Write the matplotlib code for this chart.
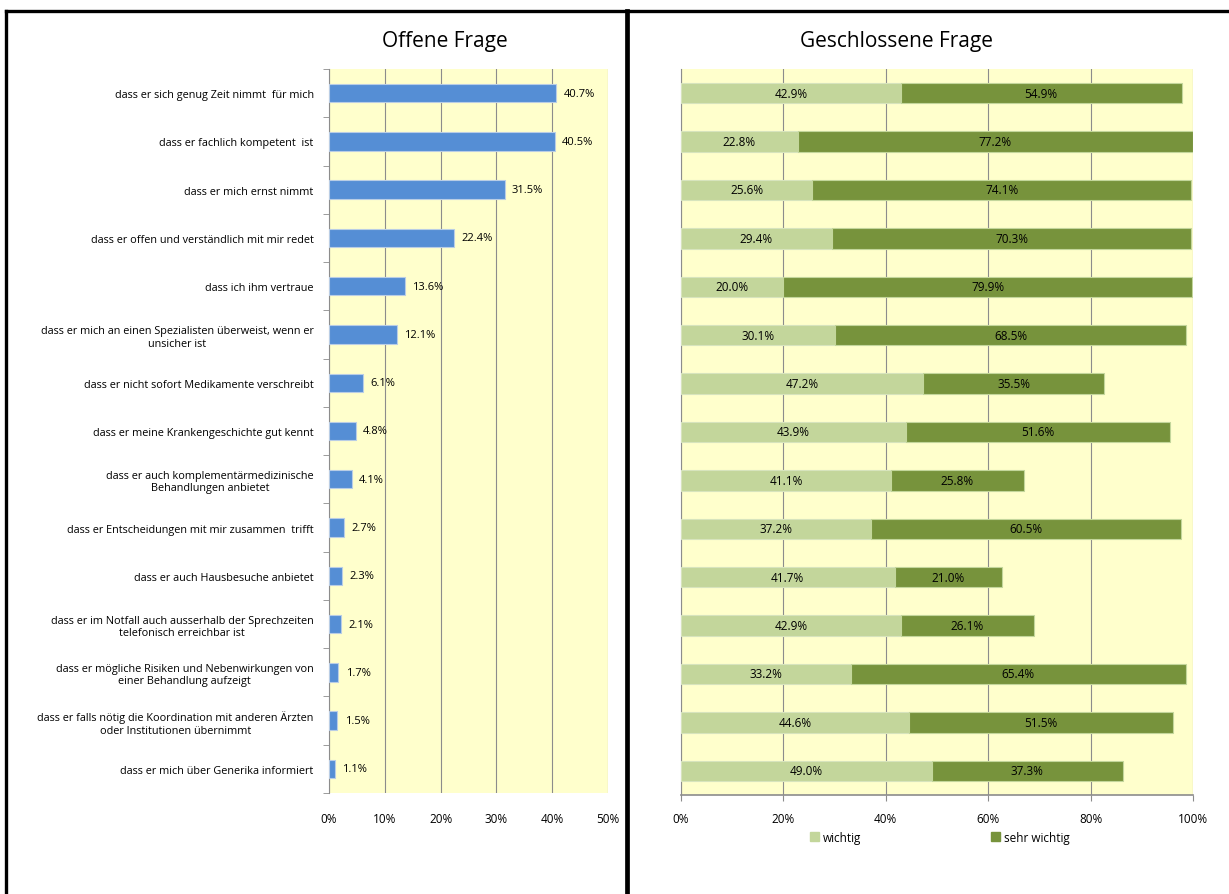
import matplotlib.pyplot as plt
from matplotlib.lines import Line2D
from matplotlib.patches import Patch
import numpy as np

# --- data ---
categories = [
    "dass er sich genug Zeit nimmt  für mich",
    "dass er fachlich kompetent  ist",
    "dass er mich ernst nimmt",
    "dass er offen und verständlich mit mir redet",
    "dass ich ihm vertraue",
    "dass er mich an einen Spezialisten überweist, wenn er\nunsicher ist",
    "dass er nicht sofort Medikamente verschreibt",
    "dass er meine Krankengeschichte gut kennt",
    "dass er auch komplementärmedizinische\nBehandlungen anbietet",
    "dass er Entscheidungen mit mir zusammen  trifft",
    "dass er auch Hausbesuche anbietet",
    "dass er im Notfall auch ausserhalb der Sprechzeiten\ntelefonisch erreichbar ist",
    "dass er mögliche Risiken und Nebenwirkungen von\neiner Behandlung aufzeigt",
    "dass er falls nötig die Koordination mit anderen Ärzten\noder Institutionen übernimmt",
    "dass er mich über Generika informiert",
]
offen = [40.7, 40.5, 31.5, 22.4, 13.6, 12.1, 6.1, 4.8, 4.1, 2.7, 2.3, 2.1, 1.7, 1.5, 1.1]
wichtig = [42.9, 22.8, 25.6, 29.4, 20.0, 30.1, 47.2, 43.9, 41.1, 37.2, 41.7, 42.9, 33.2, 44.6, 49.0]
sehr_wichtig = [54.9, 77.2, 74.1, 70.3, 79.9, 68.5, 35.5, 51.6, 25.8, 60.5, 21.0, 26.1, 65.4, 51.5, 37.3]
left_ticks = [0, 10, 20, 30, 40, 50]
right_ticks = [0, 20, 40, 60, 80, 100]

plt.rcParams['font.family'] = ['Open Sans', 'DejaVu Sans']

W, H = 1229, 895
fig = plt.figure(figsize=(W / 100, H / 100), dpi=100)

bg = '#FFFFCC'
grid_c = '#8C8C8C'
y = np.arange(len(categories))

# --- left panel: Offene Frage ---
ax1 = fig.add_axes([329 / W, 1 - 794 / H, 279 / W, 724 / H])
ax1.set_facecolor(bg)
ax1.barh(y, offen, height=0.38, color='#558ED5', edgecolor='#B9CDE5', linewidth=0.8, zorder=3)
for yi, v in zip(y, offen):
    ax1.text(v + 1.3, yi, f"{v:.1f}%", va='center', ha='left', fontsize=8, zorder=4)
ax1.set_xlim(0, 50)
ax1.set_ylim(len(categories) - 0.5, -0.5)
ax1.set_xticks(left_ticks)
ax1.set_xticklabels([f"{t}%" for t in left_ticks], fontsize=8.5)
ax1.tick_params(axis='x', length=0, pad=14)
ax1.set_yticks(y)
ax1.set_yticklabels(categories, fontsize=7.8, multialignment='center')
ax1.set_yticks(np.arange(len(categories) + 1) - 0.5, minor=True)
ax1.tick_params(axis='y', which='major', length=0, pad=11)
ax1.tick_params(axis='y', which='minor', length=4, color=grid_c)
ax1.grid(axis='x', color=grid_c, linewidth=0.8, zorder=0)
for s in ['top', 'right', 'bottom']:
    ax1.spines[s].set_visible(False)
ax1.spines['left'].set_color(grid_c)
ax1.set_axisbelow(True)
fig.text(445 / W, 1 - 42 / H, "Offene Frage", ha='center', va='center', fontsize=15)

# --- right panel: Geschlossene Frage ---
ax2 = fig.add_axes([681 / W, 1 - 796 / H, 512 / W, 726 / H])
ax2.set_facecolor(bg)
ax2.barh(y, wichtig, height=0.42, color='#C3D69B', edgecolor='#D7E4BD', linewidth=0.8, zorder=3, label='wichtig')
ax2.barh(y, sehr_wichtig, left=wichtig, height=0.42, color='#77933C', edgecolor='#C3D69B', linewidth=0.8, zorder=3, label='sehr wichtig')
for yi, a, b in zip(y, wichtig, sehr_wichtig):
    ax2.text(a / 2, yi, f"{a:.1f}%", va='center', ha='center', fontsize=8.5, zorder=4)
    ax2.text(a + b / 2, yi, f"{b:.1f}%", va='center', ha='center', fontsize=8.5, zorder=4)
ax2.set_xlim(0, 100)
ax2.set_ylim(len(categories) - 0.5, -0.5)
ax2.set_xticks(right_ticks)
ax2.set_xticklabels([f"{t}%" for t in right_ticks], fontsize=8.5)
ax2.tick_params(axis='x', length=4, color=grid_c, pad=8)
ax2.set_yticks([])
ax2.grid(axis='x', color=grid_c, linewidth=0.8, zorder=0)
for s in ['top', 'right']:
    ax2.spines[s].set_visible(False)
ax2.spines['left'].set_color(grid_c)
ax2.spines['bottom'].set_color(grid_c)
ax2.spines['bottom'].set_linewidth(1.2)
ax2.set_axisbelow(True)
handles = [Patch(color='#C3D69B', label='wichtig'), Patch(color='#77933C', label='sehr wichtig')]
ax2.legend(handles=handles, loc='upper center', bbox_to_anchor=(0.505, -0.035), ncol=2,
           frameon=False, fontsize=8.5, handlelength=0.8, handleheight=0.8,
           handletextpad=0.3, columnspacing=11)
fig.text(897 / W, 1 - 42 / H, "Geschlossene Frage", ha='center', va='center', fontsize=15)

# --- panel frames ---
lw = 2.4
fig.add_artist(Line2D([6 / W, 6 / W], [0, 1 - 12 / H], color='black', lw=lw))
fig.add_artist(Line2D([6 / W, 1], [1 - 12 / H, 1 - 12 / H], color='black', lw=lw))
fig.add_artist(Line2D([627 / W, 627 / W], [0, 1 - 12 / H], color='black', lw=lw + 1))

fig.savefig("out.png", dpi=100)
